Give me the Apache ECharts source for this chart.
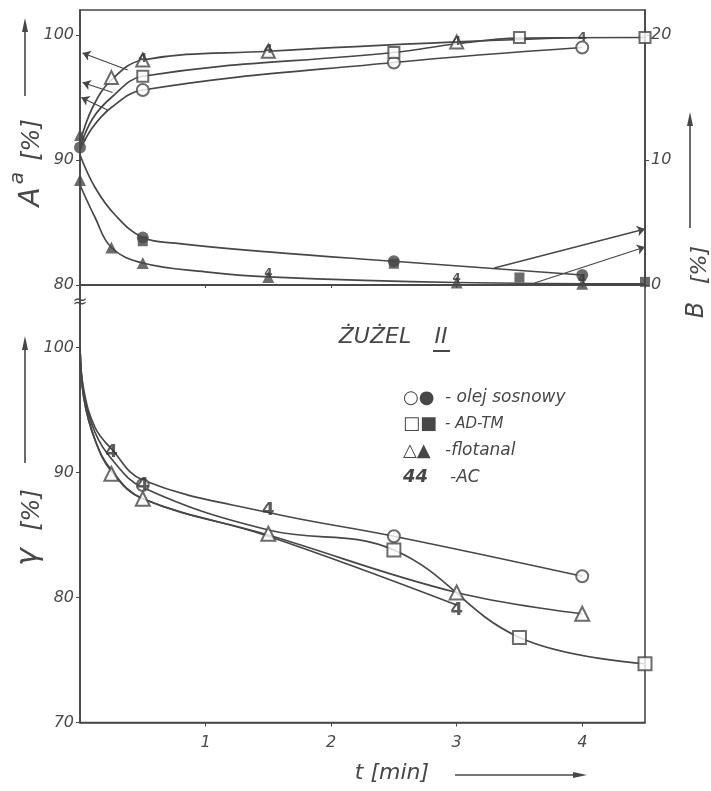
<!DOCTYPE html>
<html>
<head>
<meta charset="utf-8">
<script src="https://cdn.jsdelivr.net/npm/echarts@6/dist/echarts.min.js"></script>
<style>
html,body{margin:0;padding:0;background:#fff;}
#chart{width:711px;height:791px;}
</style>
</head>
<body>
<div id="chart"></div>
<script>
// ---------------- DATA ----------------
// x ticks (t [min])
const xTicks = [1, 2, 3, 4];
// top panel, left axis A^a [%] : curves
const aOlejT = [0, 0.1, 0.25, 0.5, 2.5, 4];
const aOlejV = [90.8, 92.6, 94.2, 95.6, 97.8, 99.0];
const aAdtmT = [0, 0.1, 0.25, 0.5, 2.5, 3, 3.5, 4.5];
const aAdtmV = [91.0, 93.3, 95.0, 96.7, 98.6, 99.3, 99.75, 99.8];
const aFlotT = [0, 0.1, 0.25, 0.5, 1.5, 3, 4];
const aFlotV = [91.4, 94.2, 96.4, 98.0, 98.7, 99.45, 99.8];
// top panel, A^a measured points (open markers)
const aOlejPtT = [0.5, 2.5, 4];
const aOlejPtV = [95.6, 97.8, 99.0];
const aAdtmPtT = [0.5, 2.5, 3.5, 4.5];
const aAdtmPtV = [96.7, 98.6, 99.8, 99.8];
const aFlotPtT = [0.25, 0.5, 1.5, 3];
const aFlotPtV = [96.6, 98.0, 98.7, 99.45];
const aAcPtT = [0.5, 1.5, 3, 4];
const aAcPtV = [98.1, 98.8, 99.5, 99.8];
// top panel, right axis B [%] : curves
const bOlejT = [0, 0.12, 0.28, 0.5, 0.76, 1.5, 2.5, 4];
const bOlejV = [10.4, 7.8, 5.6, 3.8, 3.35, 2.65, 1.9, 0.8];
const bFlotT = [0, 0.12, 0.25, 0.5, 1.0, 1.5, 3, 4.5];
const bFlotV = [8.0, 5.4, 3.0, 1.76, 1.05, 0.65, 0.2, 0.1];
// top panel, B measured points (filled markers)
const bOlejPtT = [0, 0.5, 2.5, 4];
const bOlejPtV = [11.0, 3.8, 1.9, 0.8];
const bAdtmPtT = [0.5, 2.5, 3.5, 4.5];
const bAdtmPtV = [3.5, 1.7, 0.6, 0.25];
const bFlotPtT = [0, 0, 0.25, 0.5, 1.5, 3, 4];
const bFlotPtV = [12.0, 8.4, 3.0, 1.76, 0.64, 0.2, 0.1];
const bAcPtT = [1.5, 3, 4];
const bAcPtV = [0.9, 0.5, 0.4];
// guide arrows (data coords): A side (left axis) and B side (right axis)
const arrowsA = [[[0.38, 97.2], [0.02, 98.56]], [[0.26, 95.4], [0.02, 96.2]], [[0.22, 94.0], [0.01, 95.0]]];
const arrowsB = [[[3.3, 1.36], [4.5, 4.48]], [[3.62, 0.16], [4.5, 3.04]]];
// bottom panel, γ [%] : curves
const gOlejT = [0, 0.03, 0.12, 0.25, 0.5, 1.5, 2.5, 4];
const gOlejV = [100, 96.6, 93.6, 91.9, 89.4, 86.8, 84.9, 81.7];
const gAdtmT = [0, 0.03, 0.12, 0.25, 0.5, 1.5, 2.5, 3.5, 4.5];
const gAdtmV = [100, 96.3, 93.2, 91.1, 88.8, 85.4, 83.8, 76.8, 74.7];
const gFlotT = [0, 0.03, 0.12, 0.25, 0.5, 1.5, 3, 4];
const gFlotV = [100, 96.0, 92.6, 90.1, 87.9, 85.0, 80.4, 78.7];
const gAcT = [0, 0.03, 0.12, 0.25, 0.5, 1.5, 3];
const gAcV = [100, 96.0, 92.6, 90.2, 87.9, 84.9, 79.4];
// bottom panel measured points
const gOlejPtT = [0.5, 2.5, 4];
const gOlejPtV = [89.0, 84.9, 81.7];
const gAdtmPtT = [2.5, 3.5, 4.5];
const gAdtmPtV = [83.8, 76.8, 74.7];
const gFlotPtT = [0.25, 0.5, 1.5, 3, 4];
const gFlotPtV = [89.9, 87.9, 85.1, 80.4, 78.7];
const gAcPtT = [0.25, 0.5, 1.5, 3];
const gAcPtV = [91.6, 89.0, 87.0, 79.0];
// texts
const legendRows = [
  ['○●', '- olej sosnowy'],
  ['□■', '- AD-TM'],
  ['△▲', '-flotanal'],
  ['44', '-AC']
];
const titleMain = 'ŻUŻEL';
const titleNum = 'II';

// ---------------- CHART ----------------
const INK = '#474747';
const FONT = '"DejaVu Sans", "Liberation Sans", sans-serif';
const pairs = (ts, vs) => ts.map((t, i) => [t, vs[i]]);

function curve(ts, vs, xi, yi) {
  return {
    type: 'line', xAxisIndex: xi, yAxisIndex: yi, data: pairs(ts, vs),
    smooth: 0.4, showSymbol: false, silent: true,
    lineStyle: { color: INK, width: 1.7 }, z: 2
  };
}
function marks(ts, vs, xi, yi, symbol, size) {
  return {
    type: 'scatter', xAxisIndex: xi, yAxisIndex: yi, data: pairs(ts, vs),
    symbol: symbol, symbolSize: size, silent: true,
    itemStyle: { color: INK, borderWidth: 1.6 },
    z: 4
  };
}
function fours(ts, vs, xi, yi, fs) {
  return {
    type: 'scatter', xAxisIndex: xi, yAxisIndex: yi, data: pairs(ts, vs),
    symbol: 'circle', symbolSize: 2, silent: true,
    itemStyle: { color: 'transparent' },
    label: { show: true, position: 'inside', formatter: '4', fontSize: fs, fontWeight: 'bold',
      color: '#333', fontFamily: FONT },
    z: 5
  };
}
function arrows(list, xi, yi) {
  return {
    type: 'lines', coordinateSystem: 'cartesian2d', xAxisIndex: xi, yAxisIndex: yi,
    data: list.map(c => ({ coords: c })),
    symbol: ['none', 'arrow'], symbolSize: 8, silent: true,
    lineStyle: { color: INK, width: 1.3, opacity: 1 }, z: 3
  };
}

const axisLabelStyle = { color: '#4a4a4a', fontSize: 16, fontFamily: FONT, fontStyle: 'italic' };
const chart = echarts.init(document.getElementById('chart'), null, { renderer: 'canvas' });

function vArrow(x, y1, y2) {
  return [
    { type: 'line', shape: { x1: x, y1: y1, x2: x, y2: y2 + 6 }, style: { stroke: INK, lineWidth: 1.6 } },
    { type: 'polygon', shape: { points: [[x - 3, y2 + 14], [x + 3, y2 + 14], [x, y2]] }, style: { fill: INK } }
  ];
}
function hArrow(x1, x2, y) {
  return [
    { type: 'line', shape: { x1: x1, y1: y, x2: x2 - 6, y2: y }, style: { stroke: INK, lineWidth: 1.6 } },
    { type: 'polygon', shape: { points: [[x2 - 14, y - 3], [x2 - 14, y + 3], [x2, y]] }, style: { fill: INK } }
  ];
}
function rtext(txt, x, y, fs) {
  return {
    type: 'text', x: x, y: y, rotation: Math.PI / 2,
    style: { text: txt, fontSize: fs, fontFamily: FONT, fontStyle: 'italic', fill: INK,
      align: 'center', verticalAlign: 'middle' }
  };
}
function htext(txt, x, y, fs, align, weight) {
  return {
    type: 'text', x: x, y: y,
    style: { text: txt, fontSize: fs, fontFamily: FONT, fontStyle: 'italic', fontWeight: weight || 'normal',
      fill: INK, align: align || 'left', verticalAlign: 'middle' }
  };
}

const graphics = [].concat(
  // left top axis name
  [rtext('A', 32, 197, 28), rtext('a', 18, 178, 20), rtext('[%]', 33, 140, 24)],
  vArrow(25, 96, 18),
  // right axis name
  [rtext('B', 697, 310, 24), rtext('[%]', 700, 265, 22)],
  vArrow(690, 228, 112),
  // bottom left axis name
  [rtext('γ', 29, 557, 30), rtext('[%]', 33, 510, 24)],
  vArrow(25, 463, 336),
  // x axis name
  [htext('t [min]', 392, 773, 22, 'center')],
  hArrow(455, 587, 775),
  // axis break mark
  [htext('≈', 80, 302, 18, 'center')],
  // title
  [htext(titleMain, 375, 337, 22, 'center'), htext(titleNum, 441, 337, 22, 'center'),
   { type: 'line', shape: { x1: 433, y1: 351, x2: 450, y2: 351 }, style: { stroke: INK, lineWidth: 2 } }],
  // legend
  legendRows.map((r, i) => htext(r[0], 403, 398 + i * 26.5, 18, 'left', i === 3 ? 'bold' : 'normal')),
  legendRows.map((r, i) => htext(r[1], i === 3 ? 450 : 445, 398 + i * 26.5, i === 1 ? 15 : 17, 'left'))
);

const option = {
  backgroundColor: '#fff',
  animation: false,
  grid: [
    { left: 80, right: 66, top: 10, height: 275, show: true, borderColor: INK, borderWidth: 1.6 },
    { left: 80, right: 66, top: 285, height: 437.5, show: true, borderColor: INK, borderWidth: 1.6 }
  ],
  xAxis: [
    { gridIndex: 0, type: 'value', min: 0, max: 4.5, interval: 1,
      axisLine: { lineStyle: { color: INK, width: 1.6 } },
      axisTick: { show: true, length: 3, lineStyle: { color: INK } },
      axisLabel: { show: false }, splitLine: { show: false } },
    { gridIndex: 1, type: 'value', min: 0, max: 4.5, interval: 1,
      axisLine: { lineStyle: { color: INK, width: 1.6 } },
      axisTick: { show: true, length: 4, lineStyle: { color: INK } },
      axisLabel: Object.assign({ showMinLabel: false, showMaxLabel: false, margin: 12,
        formatter: v => (xTicks.indexOf(v) >= 0 ? String(v) : '') }, axisLabelStyle),
      splitLine: { show: false } }
  ],
  yAxis: [
    { gridIndex: 0, type: 'value', min: 80, max: 102, interval: 10, position: 'left',
      axisLine: { show: true, lineStyle: { color: INK, width: 1.6 } },
      axisTick: { show: true, length: 4, lineStyle: { color: INK } },
      axisLabel: Object.assign({ showMaxLabel: false, margin: 6 }, axisLabelStyle),
      splitLine: { show: false } },
    { gridIndex: 0, type: 'value', min: 0, max: 22, interval: 10, position: 'right',
      axisLine: { show: true, lineStyle: { color: INK, width: 1.6 } },
      axisTick: { show: true, length: 4, lineStyle: { color: INK } },
      axisLabel: Object.assign({ showMaxLabel: false, margin: 6 }, axisLabelStyle),
      splitLine: { show: false } },
    { gridIndex: 1, type: 'value', min: 70, max: 105, interval: 10, position: 'left',
      axisLine: { show: true, lineStyle: { color: INK, width: 1.6 } },
      axisTick: { show: true, length: 4, lineStyle: { color: INK } },
      axisLabel: Object.assign({ showMaxLabel: false, margin: 6 }, axisLabelStyle),
      splitLine: { show: false } }
  ],
  series: [
    // top: A^a
    curve(aOlejT, aOlejV, 0, 0),
    curve(aAdtmT, aAdtmV, 0, 0),
    curve(aFlotT, aFlotV, 0, 0),
    marks(aOlejPtT, aOlejPtV, 0, 0, 'emptyCircle', 12),
    marks(aAdtmPtT, aAdtmPtV, 0, 0, 'emptyRect', 11),
    marks(aFlotPtT, aFlotPtV, 0, 0, 'emptyTriangle', 13),
    fours(aAcPtT, aAcPtV, 0, 0, 13),
    arrows(arrowsA, 0, 0),
    // top: B
    curve(bOlejT, bOlejV, 0, 1),
    curve(bFlotT, bFlotV, 0, 1),
    marks(bOlejPtT, bOlejPtV, 0, 1, 'circle', 12),
    marks(bAdtmPtT, bAdtmPtV, 0, 1, 'rect', 10),
    marks(bFlotPtT, bFlotPtV, 0, 1, 'triangle', 12),
    fours(bAcPtT, bAcPtV, 0, 1, 12),
    arrows(arrowsB, 0, 1),
    // bottom: γ
    curve(gOlejT, gOlejV, 1, 2),
    curve(gAdtmT, gAdtmV, 1, 2),
    curve(gFlotT, gFlotV, 1, 2),
    curve(gAcT, gAcV, 1, 2),
    marks(gOlejPtT, gOlejPtV, 1, 2, 'emptyCircle', 12),
    marks(gAdtmPtT, gAdtmPtV, 1, 2, 'emptyRect', 13),
    marks(gFlotPtT, gFlotPtV, 1, 2, 'emptyTriangle', 14),
    fours(gAcPtT, gAcPtV, 1, 2, 18)
  ],
  graphic: graphics
};
chart.setOption(option);
</script>
</body>
</html>
